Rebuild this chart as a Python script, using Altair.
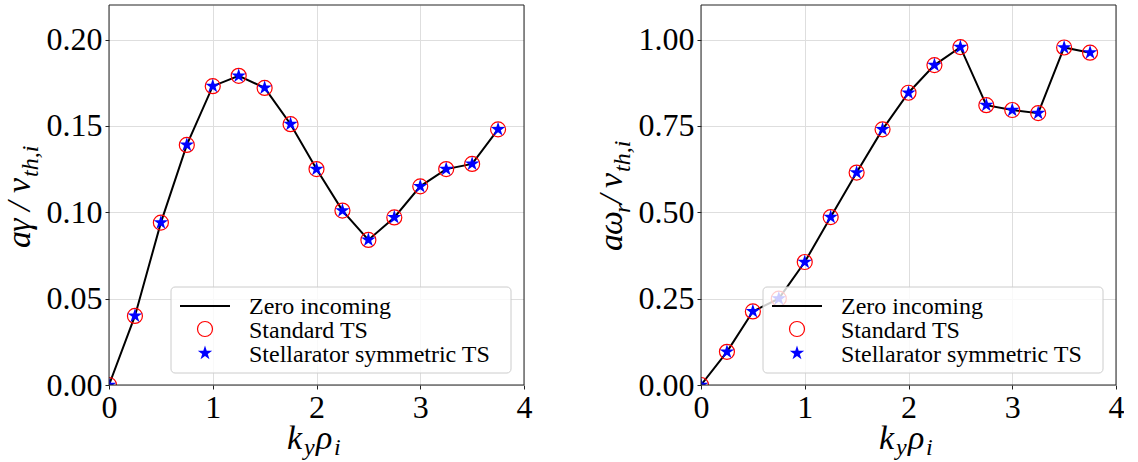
import altair as alt
import pandas as pd

# ---- data ----
ky = [0.0, 0.25, 0.5, 0.75, 1.0, 1.25, 1.5, 1.75, 2.0, 2.25, 2.5, 2.75, 3.0, 3.25, 3.5, 3.75]
gamma = [0.0, 0.040, 0.094, 0.139, 0.173, 0.179, 0.172, 0.151, 0.125, 0.101, 0.084, 0.097, 0.115, 0.125, 0.128, 0.148]
omega = [0.0, 0.096, 0.213, 0.250, 0.356, 0.486, 0.615, 0.740, 0.846, 0.926, 0.978, 0.810, 0.796, 0.787, 0.977, 0.962]

x_ticks = [0, 1, 2, 3, 4]
gamma_ticks = [0.0, 0.05, 0.10, 0.15, 0.20]
omega_ticks = [0.0, 0.25, 0.50, 0.75, 1.00]

legend_labels = ["Zero incoming", "Standard TS", "Stellarator symmetric TS"]

STAR = ("M0,-1L0.2245,-0.309L0.951,-0.309L0.363,0.118L0.588,0.809L0,0.382"
        "L-0.588,0.809L-0.363,0.118L-0.951,-0.309L-0.2245,-0.309Z")

W, H = 415, 380
FONT = "Liberation Serif, Times New Roman, Times, DejaVu Serif, serif"
MAIN, SUB = 34, 24
TB = -79  # y-title baseline offset from the plot's left edge


def dummy():
    return alt.Chart(alt.Data(values=[{}]))


def txt(s, x, y, size, angle=0):
    return dummy().mark_text(
        text=s, font=FONT, fontStyle="italic", fontSize=size, align="left",
        baseline="alphabetic", angle=angle, color="black"
    ).encode(x=alt.value(x), y=alt.value(y))


def legend_layers():
    box = dummy().mark_rect(fill="white", fillOpacity=0.8, stroke="#cccccc",
                            strokeWidth=1, cornerRadius=4).encode(
        x=alt.value(62), x2=alt.value(402), y=alt.value(282), y2=alt.value(368))
    rule = dummy().mark_rule(color="black", strokeWidth=2).encode(
        x=alt.value(71), x2=alt.value(121), y=alt.value(301))
    circ = dummy().mark_point(shape="circle", size=225, filled=False, color="red",
                              strokeWidth=1.2, opacity=1).encode(
        x=alt.value(96), y=alt.value(324))
    star = dummy().mark_point(shape=STAR, size=230, filled=True, color="blue",
                              opacity=1).encode(x=alt.value(96), y=alt.value(348))
    texts = [
        dummy().mark_text(text=lab, font=FONT, fontSize=24, align="left",
                          baseline="alphabetic", color="black").encode(
            x=alt.value(140), y=alt.value(yy))
        for lab, yy in zip(legend_labels, [309, 333, 357])
    ]
    return [box, rule, circ, star] + texts


def frame():
    return dummy().mark_rect(fill=None, fillOpacity=0, stroke="#222222", strokeWidth=1).encode(
        x=alt.value(0), x2=alt.value(W), y=alt.value(0), y2=alt.value(H))


def x_title():
    return [
        txt("k", 178, 444, MAIN),
        txt("y", 195, 450, SUB),
        txt("ρ", 207, 444, MAIN),
        txt("i", 225, 450, SUB),
    ]


def panel(vals, domain, ticks, ytitle):
    df = pd.DataFrame({"ky": ky, "val": vals})
    base = alt.Chart(df).encode(
        x=alt.X("ky:Q", scale=alt.Scale(domain=[0, 4], nice=False, zero=False),
                axis=alt.Axis(values=x_ticks, format="d", title=None, labelFlush=False)),
        y=alt.Y("val:Q", scale=alt.Scale(domain=domain, nice=False),
                axis=alt.Axis(values=ticks, format=".2f", title=None, labelFlush=False)),
    )
    line = base.mark_line(color="black", strokeWidth=2, clip=True)
    circ = base.mark_point(shape="circle", size=225, filled=False, color="red",
                           strokeWidth=1.2, opacity=1, clip=True)
    star = base.mark_point(shape=STAR, size=230, filled=True, color="blue",
                           opacity=1, clip=True)
    return alt.layer(line, circ, star, *legend_layers(), frame(), *x_title(), *ytitle).properties(
        width=W, height=H)


# y titles built from glyph positions
left_title = [
    txt("a", TB, 243, MAIN, 270),
    txt("γ", TB, 227, MAIN, 270),
    txt("/", TB, 206, MAIN, 270),
    txt("v", TB, 188, MAIN, 270),
    txt("th,i", TB + 8, 172, SUB, 270),
]
right_title = [
    txt("a", TB, 246, MAIN, 270),
    txt("ω", TB, 230, MAIN, 270),
    txt("r", TB + 8, 208, SUB, 270),
    txt("/", TB, 199, MAIN, 270),
    txt("v", TB, 183, MAIN, 270),
    txt("th,i", TB + 8, 167, SUB, 270),
]

left = panel(gamma, [0, 0.22], gamma_ticks, left_title)
right = panel(omega, [0, 1.1], omega_ticks, right_title)

chart = alt.hconcat(left, right, spacing=63).properties(
    padding={"left": 3, "top": 4, "right": 0, "bottom": 0}
).configure_view(
    stroke=None
).configure_axis(
    labelFont=FONT, labelFontSize=32, labelColor="black",
    tickColor="#222222", tickSize=4, tickWidth=1, domain=False,
    grid=True, gridColor="#dedede", gridWidth=1, labelPadding=3,
)

chart.save("out.html", embed_options={"renderer": "svg", "actions": False})
